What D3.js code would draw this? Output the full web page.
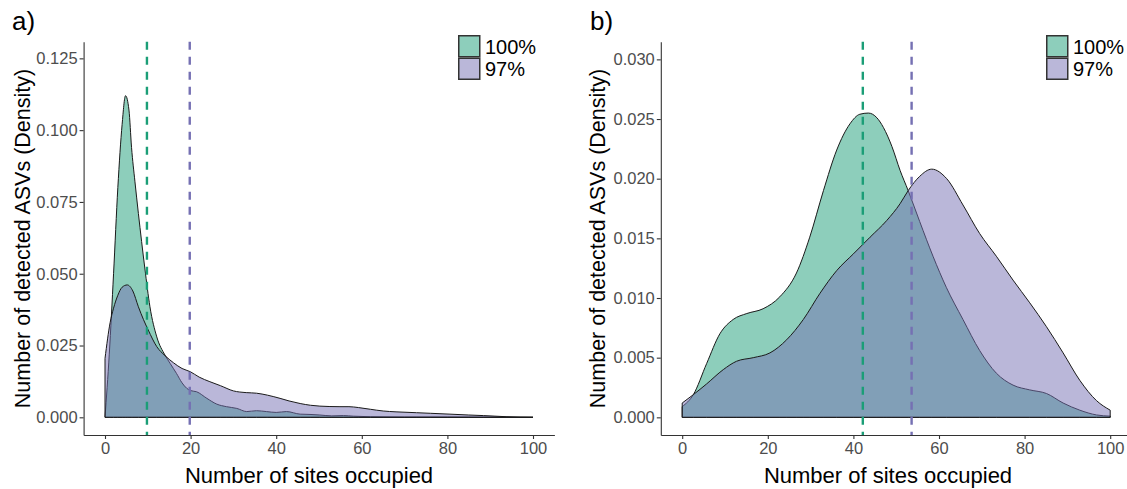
<!DOCTYPE html>
<html>
<head>
<meta charset="utf-8">
<script src="https://cdn.jsdelivr.net/npm/d3@7"></script>
<style>
  body { margin: 0; background: #fff; }
  svg { display: block; font-family: "Liberation Sans", Arial, sans-serif; }
</style>
</head>
<body>
<svg id="chart" width="1127" height="489"></svg>
<script>
// data (density of ASVs vs number of sites occupied)
var seriesNames = ["100%", "97%"];
var seriesColors = ["#1b9e77", "#7570b3"];
var xTicks = [0, 20, 40, 60, 80, 100];
var yTicksA = [0, 0.025, 0.05, 0.075, 0.1, 0.125];
var yTicksB = [0, 0.005, 0.01, 0.015, 0.02, 0.025, 0.03];

// panel a) 100%
var sitesA100 = [0, 1, 2, 3, 4, 4.8, 5.6, 6.2, 7, 7.8, 9.3, 10.5, 12.1, 14, 15.2, 16.7, 18, 19.1, 20, 21.4, 23.8, 26.1, 28.4, 30.8, 33.1, 35.4, 37.7, 40, 42.4, 45.6, 47.9, 50.2, 53, 55.7, 58, 62, 70, 80, 90, 100];
var densA100 = [0, 0.022, 0.05, 0.08, 0.102, 0.112, 0.107, 0.094, 0.082, 0.071, 0.052, 0.0385, 0.028, 0.0217, 0.0188, 0.0153, 0.012, 0.0101, 0.0093, 0.0089, 0.0066, 0.0046, 0.0037, 0.0031, 0.0020, 0.0023, 0.0020, 0.0017, 0.0020, 0.0011, 0.0010, 0.0008, 0.0005, 0.0006, 0.0004, 0.0002, 0.0001, 0.0001, 0.00005, 0];
// panel a) 97%
var sitesA97 = [0, 1.2, 2, 3, 4, 5.2, 6.5, 7.8, 9, 10.1, 12.1, 14, 16, 18, 19.9, 22, 24.5, 27, 30, 33, 35.4, 38, 40.9, 43, 45.6, 48, 50.2, 54.9, 57, 59.2, 62, 65, 68, 72.8, 76, 80.6, 85, 88.4, 93.9, 97, 100];
var densA97 = [0.0205, 0.033, 0.038, 0.0425, 0.0453, 0.0461, 0.044, 0.0385, 0.034, 0.0304, 0.0246, 0.0215, 0.019, 0.017, 0.0159, 0.014, 0.0124, 0.011, 0.0092, 0.0086, 0.0084, 0.0077, 0.0066, 0.0057, 0.0048, 0.0042, 0.0039, 0.0037, 0.0037, 0.0034, 0.0028, 0.0022, 0.0019, 0.0016, 0.0014, 0.0011, 0.0008, 0.0006, 0.0002, 0.00005, 0];
// panel b) 100%
var sitesB100 = [0, 2.6, 5.7, 8.8, 11.9, 15.1, 18.9, 22.8, 26.7, 29.8, 33, 36.1, 39.2, 41.5, 43.5, 45.5, 47, 49, 50.9, 52.8, 55.5, 58.6, 61.7, 65.6, 69.5, 73.4, 77.3, 81.2, 85.1, 89, 92.9, 96.8, 100];
var densB100 = [0.0009, 0.0019, 0.0045, 0.0070, 0.0082, 0.0087, 0.0091, 0.0101, 0.0121, 0.0151, 0.0190, 0.0224, 0.0246, 0.0254, 0.0255, 0.0251, 0.0243, 0.0227, 0.0207, 0.0190, 0.0164, 0.0135, 0.0109, 0.0082, 0.0056, 0.0037, 0.0027, 0.0023, 0.0020, 0.0012, 0.0006, 0.0002, 0.0001];
// panel b) 97%
var sitesB97 = [0, 2.6, 5.7, 9.6, 12.7, 16.6, 20.5, 24.4, 28.3, 32.2, 36.1, 40, 43.9, 47.8, 50.9, 52.8, 55.5, 58.3, 61.8, 65.6, 69.5, 73.4, 77.3, 81.2, 85.1, 89, 92.9, 96.8, 100];
var densB97 = [0.0012, 0.0019, 0.0028, 0.0040, 0.0047, 0.0050, 0.0054, 0.0065, 0.0082, 0.0104, 0.0123, 0.0137, 0.0151, 0.0165, 0.0179, 0.0190, 0.0202, 0.0208, 0.0200, 0.0178, 0.0154, 0.0135, 0.0115, 0.0096, 0.0076, 0.0054, 0.0031, 0.0014, 0.0006];

// means (dashed lines)
var meansA = [9.8, 19.8];
var meansB = [42.2, 53.6];

var svg = d3.select("#chart");

function zip(xs, ys) { return xs.map(function(x, i) { return [x, ys[i]]; }); }

function drawPanel(opt) {
  var x = d3.scaleLinear().domain([-5, 105]).range([opt.left, opt.left + 470.8]);
  var y = d3.scaleLinear().domain(opt.yDomain).range([435, 41.7]);
  var g = svg.append("g");

  var area = d3.area()
    .x(function(d) { return x(d[0]); })
    .y0(y(0))
    .y1(function(d) { return y(d[1]); })
    .curve(d3.curveMonotoneX);

  // 100% first, 97% on top (both half transparent)
  opt.series.forEach(function(s, i) {
    g.append("path")
      .datum(s)
      .attr("d", function(d) { return area(d) + "Z"; })
      .attr("fill", seriesColors[i])
      .attr("fill-opacity", 0.5)
      .attr("stroke", "#1a1a1a")
      .attr("stroke-width", 1)
      .attr("stroke-linejoin", "round");
  });

  // dashed mean lines
  g.selectAll("line.mean")
    .data(opt.means)
    .enter().append("line")
      .attr("class", "mean")
      .attr("x1", function(d) { return x(d); })
      .attr("x2", function(d) { return x(d); })
      .attr("y1", 41.7)
      .attr("y2", 435)
      .attr("stroke", function(d, i) { return seriesColors[i]; })
      .attr("stroke-width", 2.4)
      .attr("stroke-dasharray", "8,7");

  // axes
  var ya = g.append("g")
    .attr("transform", "translate(" + x(-5) + ",0)")
    .call(d3.axisLeft(y).tickValues(opt.yTicks).tickFormat(d3.format(".3f")).tickSize(4).tickSizeOuter(0).tickPadding(2));
  var xa = g.append("g")
    .attr("transform", "translate(0,435)")
    .call(d3.axisBottom(x).tickValues(xTicks).tickFormat(d3.format("d")).tickSize(4).tickSizeOuter(0).tickPadding(3));
  [ya, xa].forEach(function(a) {
    a.select(".domain").attr("stroke", "#333").attr("stroke-width", 1.1);
    a.selectAll(".tick line").attr("stroke", "#333").attr("stroke-width", 1.1);
    a.selectAll(".tick text").attr("fill", "#4d4d4d").style("font-size", "16.5px").style("font-family", "'Liberation Sans', Arial, sans-serif");
  });

  // axis titles
  g.append("text")
    .attr("transform", "translate(" + opt.yTitleX + ",238.5) rotate(-90)")
    .attr("text-anchor", "middle")
    .style("font-size", "21.5px")
    .text("Number of detected ASVs (Density)");
  g.append("text")
    .attr("x", opt.xTitleX)
    .attr("y", 483)
    .attr("text-anchor", "middle")
    .style("font-size", "22px")
    .text("Number of sites occupied");

  // panel letter
  g.append("text")
    .attr("x", opt.letterX)
    .attr("y", 30)
    .style("font-size", "26px")
    .text(opt.letter);

  // legend
  var leg = g.append("g").attr("transform", "translate(" + opt.legendX + ",35)");
  var item = leg.selectAll("g")
    .data(seriesNames)
    .enter().append("g")
      .attr("transform", function(d, i) { return "translate(0," + (i * 22.5) + ")"; });
  item.append("rect")
    .attr("x", 0.75).attr("y", 0.75)
    .attr("width", 21).attr("height", 21)
    .attr("fill", function(d, i) { return seriesColors[i]; })
    .attr("fill-opacity", 0.5)
    .attr("stroke", "#333")
    .attr("stroke-width", 1.5);
  item.append("text")
    .attr("x", 27)
    .attr("y", 18.5)
    .style("font-size", "20px")
    .text(function(d) { return d; });
}

drawPanel({
  left: 83.6, yDomain: [-0.00616, 0.1308], yTicks: yTicksA,
  series: [zip(sitesA100, densA100), zip(sitesA97, densA97)],
  means: meansA, yTitleX: 30, xTitleX: 309, letter: "a)", letterX: 12, legendX: 458
});
drawPanel({
  left: 660.8, yDomain: [-0.00148, 0.03148], yTicks: yTicksB,
  series: [zip(sitesB100, densB100), zip(sitesB97, densB97)],
  means: meansB, yTitleX: 605, xTitleX: 888, letter: "b)", letterX: 590, legendX: 1046
});
</script>
</body>
</html>
